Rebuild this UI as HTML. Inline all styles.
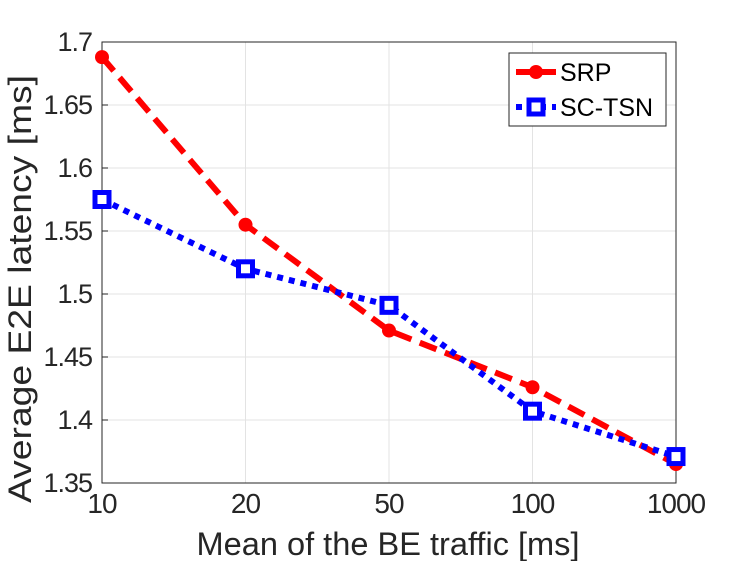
<!DOCTYPE html>
<html><head><meta charset="utf-8"><style>
body{margin:0;background:#fff;}
svg{display:block;font-family:"Liberation Sans",Arial,sans-serif;}
</style></head><body>
<svg id="chart" width="747" height="561">
<g id="grid"></g>
<rect x="102" y="42" width="574" height="441" fill="none" stroke="#262626" stroke-width="1"/>
<g id="ticks"></g>
<g id="series"></g>
<text x="388" y="555" font-size="32" text-anchor="middle" fill="#262626" textLength="383" lengthAdjust="spacingAndGlyphs">Mean of the BE traffic [ms]</text>
<text transform="translate(31,289) rotate(-90)" font-size="32" text-anchor="middle" fill="#262626" textLength="428" lengthAdjust="spacingAndGlyphs">Average E2E latency [ms]</text>
<g>
<rect x="509" y="53" width="157" height="73" fill="#fff" stroke="#262626" stroke-width="1"/>
<g>
<line x1="516" y1="72" x2="556" y2="72" stroke="#ff0000" stroke-width="6" stroke-dasharray="18,8"/>
<circle cx="536" cy="72" r="7" fill="#ff0000"/>
<text x="560" y="81" font-size="25" fill="#000">SRP</text>
</g>
<g>
<line x1="516" y1="107" x2="556" y2="107" stroke="#0000ff" stroke-width="6" stroke-dasharray="6,6"/>
<rect x="529" y="100" width="14" height="14" fill="#fff" stroke="#0000ff" stroke-width="5"/>
<text x="560" y="116" font-size="25" fill="#000">SC-TSN</text>
</g>
</g>
</svg>
<script>
const categories = ["10","20","50","100","1000"];
const srpValues = [1.688, 1.555, 1.471, 1.426, 1.365];
const scTsnValues = [1.575, 1.520, 1.491, 1.407, 1.371];
const yTicks = [1.35,1.4,1.45,1.5,1.55,1.6,1.65,1.7];
const yTickLabels = ["1.35","1.4","1.45","1.5","1.55","1.6","1.65","1.7"];

const NS="http://www.w3.org/2000/svg";
const L=102,R=676,T=42,B=483,ymin=1.35,ymax=1.7;
function xs(i){return L+i*(R-L)/(categories.length-1);}
function ys(v){return B-(v-ymin)/(ymax-ymin)*(B-T);}
function mk(tag,attrs,parent){const e=document.createElementNS(NS,tag);for(const k in attrs)e.setAttribute(k,attrs[k]);parent.appendChild(e);return e;}
const grid=document.getElementById('grid'),ticks=document.getElementById('ticks'),ser=document.getElementById('series');
categories.forEach((c,i)=>{
  const x=xs(i);
  const g=mk('line',{x1:x,x2:x,y1:T,y2:B,stroke:'#e3e3e3','stroke-width':1},grid);
  
  
  const t=mk('text',{x:x,y:513,'font-size':28,'text-anchor':'middle',fill:'#262626','letter-spacing':'-1'},ticks);
  t.textContent=c;
  
  
});
yTicks.forEach((v,i)=>{
  const y=ys(v);
  const g=mk('line',{x1:L,x2:R,y1:y,y2:y,stroke:'#e3e3e3','stroke-width':1},grid);
  
  
  const tk=mk('line',{x1:L,x2:L+6,y1:y,y2:y,stroke:'#262626','stroke-width':1},ticks);
  
  
  const t=mk('text',{x:92,y:y+9,'font-size':27,'text-anchor':'end',fill:'#262626','letter-spacing':'-1'},ticks);
  t.textContent=yTickLabels[i];
  
  
});
function pts(vals){return vals.map((v,i)=>xs(i)+','+ys(v)).join(' ');}
const l1=mk('polyline',{points:pts(srpValues),fill:'none',stroke:'#ff0000','stroke-width':6,'stroke-dasharray':'18,9'},ser);


const l2=mk('polyline',{points:pts(scTsnValues),fill:'none',stroke:'#0000ff','stroke-width':6,'stroke-dasharray':'6,6'},ser);


srpValues.forEach((v,i)=>{
  const c=mk('circle',{cx:xs(i),cy:ys(v),r:7,fill:'#ff0000'},ser);
  
  
});
scTsnValues.forEach((v,i)=>{
  const r=mk('rect',{x:xs(i)-7,y:ys(v)-7,width:14,height:14,fill:'#fff',stroke:'#0000ff','stroke-width':5},ser);
  
  
});
</script>
</body></html>
